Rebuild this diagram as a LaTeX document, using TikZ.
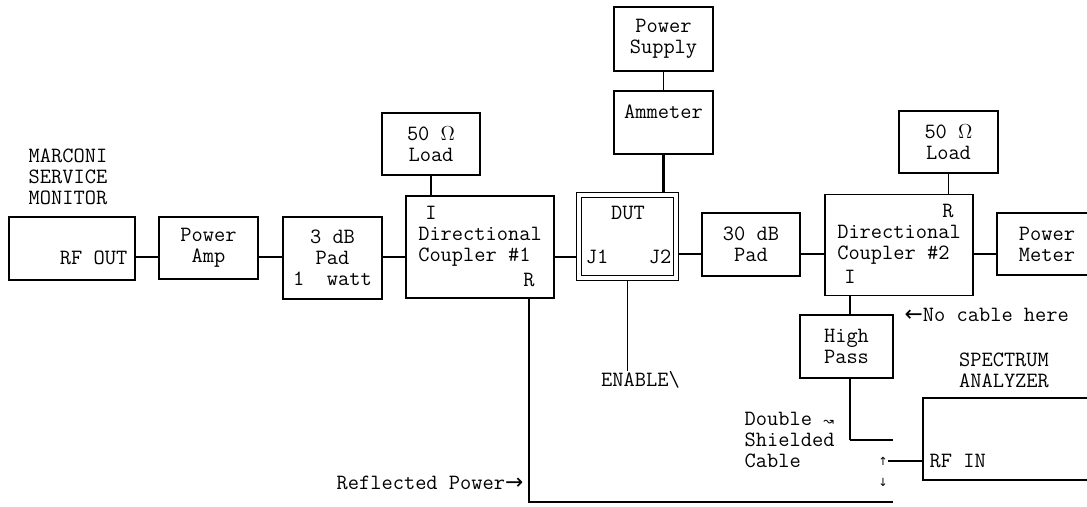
\documentclass[tikz,border=0pt]{standalone}
\usepackage{fontspec}
\newfontfamily\arrfont{DejaVu Sans}
\usepackage{tikz}
\usetikzlibrary{calc}
\newcommand{\pxl}{0.25mm}

\begin{document}
\begin{tikzpicture}[x=\pxl, y=-\pxl, line width=1pt,
        font=\ttfamily\fontsize{15.5}{14.8}\selectfont,
        box/.style 2 args={rectangle, draw, line width=1.2pt, inner sep=1pt, align=center, minimum width=#1*\pxl, minimum height=#2*\pxl},
        txt/.style={inner sep=0pt, align=left},
        tiny/.style={inner sep=0pt, font=\arrfont\footnotesize},
        heavy/.style={line width=2pt}
    ]
        \useasboundingbox (0,0) rectangle (1087,506);
        \clip (0,0) rectangle (1087,506);
        \coordinate (rf) at (0,257);
        \coordinate (rfb) at (0,254);

        % Source side
        \node[txt, anchor=west] (marconilbl) at (28,177) {MARCONI\\SERVICE\\MONITOR};
        \node[box={126}{63}] (marconi) at (72,248.5) {};
        \node[txt, anchor=east] (rfout) at (128,258) {RF OUT};
        \node[box={99}{62}] (amp) at (208.5,248) {Power\\Amp};
        \node[box={99}{82}] (pad3) at (332.5,258) {3 dB\\Pad\\1\ \ watt};

        % Coupler #1 and its load
        \node[box={98}{62}] (load1) at (431,144) {50 $\Omega$\\Load};
        \node[box={148}{102}, align=left] (dc1) at (480,247) {Directional\\Coupler \#1};
        \node[txt] (i1) at (431,213) {I};
        \node[txt] (r1) at (529,280) {R};

        % Device under test
        \node[box={99}{64}] (psu) at (663.5,39) {Power\\Supply};
        \node[box={99}{63}] (amm) at (663.5,122.5) {Ammeter\\\mbox{}};
        \node[box={97}{83}, double, double distance=2.4pt, line width=0.9pt, outer sep=2.1pt] (dut) at (627.5,236.5) {};
        \node[txt] (dutlbl) at (628,213) {DUT};
        \node[txt] (j1) at (597,257) {J1};
        \node[txt] (j2) at (660,257) {J2};
        \node[txt] (enable) at (640.5,380) {ENABLE\textbackslash};

        % Load side
        \node[box={98}{63}] (pad30) at (751,244.5) {30 dB\\Pad};
        \node[box={99}{62}] (load2) at (948.5,142) {50 $\Omega$\\Load};
        \node[box={148}{101}, align=left] (dc2) at (899,245) {Directional\\Coupler \#2};
        \node[txt] (r2) at (948,211) {R};
        \node[txt] (i2) at (850,277) {I};
        \node[box={100}{62}] (pm) at (1047,244) {Power\\Meter};

        % Spectrum analyzer branch
        \node[box={93}{63}] (hp) at (846.5,346.5) {High\\Pass};
        \node[txt, anchor=west] (nocable) at (904,315) {{\arrfont←}No cable here};
        \node[txt, align=center] (salbl) at (1004,370) {SPECTRUM\\ANALYZER};
        \node[box={175}{82}] (sa) at (1010.5,439) {};
        \node[txt, anchor=west] (rfin) at (929,461) {RF IN};
        \node[txt, anchor=west] (cablelbl) at (744,440) {Double {\arrfont\small↝}\\Shielded\\Cable};
        \node[txt, anchor=east] (refl) at (524,483) {Reflected Power{\arrfont→}};
        \node[tiny] (up) at (883,461) {↑};
        \node[tiny] (dn) at (883,482) {↓};
        \coordinate (cableend) at (893,440);
        \coordinate (reflend) at (893,502);

        % Connections
        \draw (marconi.east |- rf) -- (amp.west |- rf);
        \draw (amp.east |- rf) -- (pad3.west |- rf);
        \draw (pad3.east |- rf) -- (dc1.west |- rf);
        \draw (dc1.east |- rf) -- (dut.west |- rf);
        \draw[heavy] (dut.east |- rfb) -- (pad30.west |- rfb);
        \draw (pad30.east |- rfb) -- (dc2.west |- rfb);
        \draw (dc2.east |- rfb) -- (pm.west |- rfb);
        \draw (load1.south) -- (load1.south |- dc1.north);
        \draw (load2.south) -- (load2.south |- dc2.north);
        \draw (psu.south) -- (amm.north);
        \draw[heavy] (amm.south) -- (amm.south |- dut.north);
        \draw (dut.south) -- (dut.south |- enable.north);
        \draw (i2 |- dc2.south) -- (i2 |- hp.north);
        \draw (i2 |- hp.south) -- (i2 |- cableend);
        \draw[heavy] (i2 |- cableend) -- (cableend);
        \draw[line width=1.6pt] (r1 |- dc1.south) |- (reflend);
        \draw (up.east) -- (sa.west |- up);
\end{tikzpicture}
\end{document}
